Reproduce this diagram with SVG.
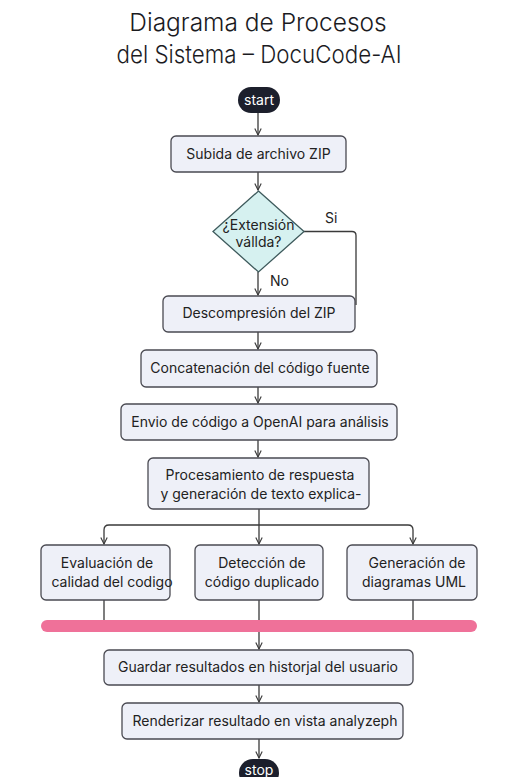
<svg xmlns="http://www.w3.org/2000/svg" width="518" height="777" viewBox="0 0 518 777">
<style>
  .title{font-family:Inter,"Liberation Sans",sans-serif;font-size:24.5px;font-weight:300;fill:#1b1b1f;text-anchor:middle}
  .box{fill:#eef0f8;stroke:#4a4a52;stroke-width:1.3}
  .txt{font-family:Inter,"Liberation Sans",sans-serif;font-size:14px;fill:#222;text-anchor:middle}
  .term{fill:#1c1f2c}
  .ttxt{font-family:Inter,"Liberation Sans",sans-serif;font-size:14px;fill:#fff;text-anchor:middle}
  .dia{fill:#d6f1f0;stroke:#3e5a5c;stroke-width:1.3}
  .edge{fill:none;stroke:#3a3a3a;stroke-width:1.3}
  .lbl{font-family:Inter,"Liberation Sans",sans-serif;font-size:14px;fill:#222}
</style>
<defs>
  <marker id="arr" viewBox="0 0 10 10" refX="9" refY="5" markerWidth="8" markerHeight="8" orient="auto" markerUnits="userSpaceOnUse">
    <path d="M1,1 L9,5 L1,9" fill="none" stroke="#3a3a3a" stroke-width="1.4"/>
  </marker>
</defs>
<rect width="518" height="777" fill="#ffffff"/>
<text class="title" x="258" y="31">Diagrama de Procesos</text>
<text class="title" x="259" y="63" textLength="285" lengthAdjust="spacingAndGlyphs">del Sistema – DocuCode-AI</text>

<g id="connectors">
  <path class="edge" d="M258,113 V135" marker-end="url(#arr)"/>
  <path class="edge" d="M258,172 V190" marker-end="url(#arr)"/>
  <path class="edge" d="M258,272 V295" marker-end="url(#arr)"/>
  <path class="edge" d="M304,231.5 H352 Q356,231.5 356,235.5 V305"/>
  <path class="edge" d="M258,332 V349" marker-end="url(#arr)"/>
  <path class="edge" d="M258,387 V403" marker-end="url(#arr)"/>
  <path class="edge" d="M258,440 V457" marker-end="url(#arr)"/>
  <path class="edge" d="M259,509 V544" marker-end="url(#arr)"/>
  <path class="edge" d="M259,525 H109 Q104,525 104,530 V544" marker-end="url(#arr)"/>
  <path class="edge" d="M259,525 H408 Q413,525 413,530 V544" marker-end="url(#arr)"/>
  <path class="edge" d="M104,600 V620 M259,600 V620 M413,600 V620"/>
  <path class="edge" d="M259,632 V649" marker-end="url(#arr)"/>
  <path class="edge" d="M259,685 V702" marker-end="url(#arr)"/>
  <path class="edge" d="M259,739 V758" marker-end="url(#arr)"/>
  <text class="lbl" x="325" y="223">Si</text>
  <text class="lbl" x="270" y="286">No</text>
</g>

<g id="start">
  <rect class="term" x="238" y="87" width="42" height="26" rx="13"/>
  <text class="ttxt" x="259" y="105">start</text>
</g>
<g id="subida">
  <rect class="box" x="171" y="136" width="175" height="36" rx="5"/>
  <text class="txt" x="258.5" y="159">Subida de archivo ZIP</text>
</g>
<g id="decision">
  <polygon class="dia" points="258.5,191 304,231.5 258.5,272 213,231.5"/>
  <text class="txt" x="258.5" y="230" font-size="13">¿Extensión</text>
  <text class="txt" x="258.5" y="247" font-size="13">vállda?</text>
</g>
<g id="descompresion">
  <rect class="box" x="163" y="296" width="192" height="36" rx="5"/>
  <text class="txt" x="259" y="318">Descompresión del ZIP</text>
</g>
<g id="concatenacion">
  <rect class="box" x="141" y="350" width="236" height="37" rx="5"/>
  <text class="txt" x="260" y="373">Concatenación del código fuente</text>
</g>
<g id="envio">
  <rect class="box" x="121" y="404" width="276" height="36" rx="5"/>
  <text class="txt" x="260" y="427">Envio de código a OpenAI para análisis</text>
</g>
<g id="procesamiento">
  <rect class="box" x="148" y="458" width="221" height="51" rx="5"/>
  <text class="txt" x="260" y="480">Procesamiento de respuesta</text>
  <text class="txt" x="261" y="499">y generación de texto explica-</text>
</g>
<g id="evaluacion">
  <rect class="box" x="41" y="545" width="129" height="55" rx="5"/>
  <text class="txt" x="107" y="568">Evaluación de</text>
  <text class="txt" x="112" y="587">calidad del codigo</text>
</g>
<g id="deteccion">
  <rect class="box" x="195" y="545" width="128" height="55" rx="5"/>
  <text class="txt" x="262" y="568">Detección de</text>
  <text class="txt" x="262" y="587">código duplicado</text>
</g>
<g id="generacion">
  <rect class="box" x="347" y="545" width="130" height="55" rx="5"/>
  <text class="txt" x="417" y="568">Generación de</text>
  <text class="txt" x="414" y="587">diagramas UML</text>
</g>
<g id="join">
  <rect x="41" y="620" width="436" height="12" rx="6" fill="#ef7199"/>
</g>
<g id="guardar">
  <rect class="box" x="104" y="650" width="309" height="35" rx="5"/>
  <text class="txt" x="258" y="672">Guardar resultados en historjal del usuario</text>
</g>
<g id="renderizar">
  <rect class="box" x="122" y="703" width="281" height="36" rx="5"/>
  <text class="txt" x="265" y="726">Renderizar resultado en vista analyzeph</text>
</g>
<g id="stop">
  <rect class="term" x="239" y="759" width="40" height="28" rx="14"/>
  <text class="ttxt" x="259" y="775">stop</text>
</g>
</svg>
